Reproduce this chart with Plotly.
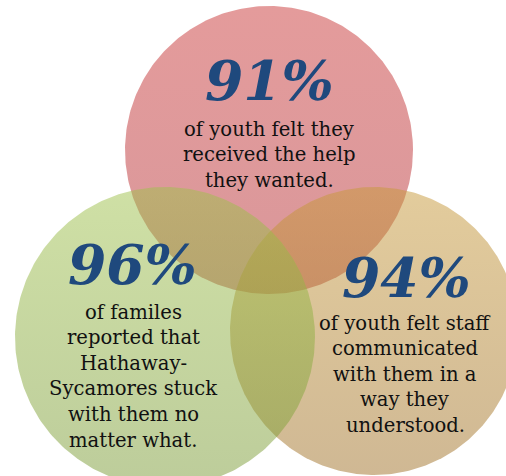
import numpy as np
import plotly.graph_objects as go

# Survey results shown in the three overlapping circles
percent_values = [91, 96, 94]
captions = [
    ["of youth felt they", "received the help", "they wanted."],
    ["of familes", "reported that", "Hathaway-", "Sycamores stuck", "with them no", "matter what."],
    ["of youth felt staff", "communicated", "with them in a", "way they", "understood."],
]

# Circle layout (pixel-like coordinates, y grows downward)
circle_cx = [269, 165, 374]
circle_cy = [150, 337, 331]
circle_r = [144, 150, 144]
# top / bottom gradient colours, drawn half-transparent
grad_top = ["#c93737", "#9fc14b", "#c79939"]
grad_bot = ["#b32f35", "#7a9a36", "#a07128"]
draw_order = [0, 2, 1]  # red, tan, then green on top

# Text placement inside each circle
pct_pos = [(269, 80), (132, 264), (406, 277)]
line_x = [269, 133, 405]
line_y0 = [129, 312, 323]
line_step = 25.6

W, H = 506, 476
fig = go.Figure()

theta = np.linspace(0, 2 * np.pi, 361)
for i in draw_order:
    xs = circle_cx[i] + circle_r[i] * np.cos(theta)
    ys = circle_cy[i] + circle_r[i] * np.sin(theta)
    fig.add_trace(go.Scatter(
        x=xs, y=ys, mode="lines", fill="toself",
        line=dict(width=0, color="rgba(0,0,0,0)"),
        fillgradient=dict(
            type="vertical",
            colorscale=[[0, grad_top[i]], [1, grad_bot[i]]],
            start=circle_cy[i] - circle_r[i],
            stop=circle_cy[i] + circle_r[i],
        ),
        opacity=0.5,
        hoverinfo="skip", showlegend=False,
    ))

annotations = []
for i, v in enumerate(percent_values):
    px, py = pct_pos[i]
    annotations.append(dict(
        x=px, y=py, xref="x", yref="y", showarrow=False,
        text=f"<b><i>{v}%</i></b>",
        font=dict(family="DejaVu Serif", size=55, color="#1f497d"),
        xanchor="center", yanchor="middle",
    ))
    for j, line in enumerate(captions[i]):
        annotations.append(dict(
            x=line_x[i], y=line_y0[i] + j * line_step, xref="x", yref="y",
            showarrow=False, text=line,
            font=dict(family="DejaVu Serif", size=19.6, color="#111111"),
            xanchor="center", yanchor="middle",
        ))

fig.update_layout(
    width=W, height=H,
    margin=dict(l=0, r=0, t=0, b=0),
    paper_bgcolor="white", plot_bgcolor="white",
    xaxis=dict(range=[0, W], visible=False, fixedrange=True),
    yaxis=dict(range=[H, 0], visible=False, fixedrange=True),
    annotations=annotations,
    showlegend=False,
)

fig.write_html("out.html")
